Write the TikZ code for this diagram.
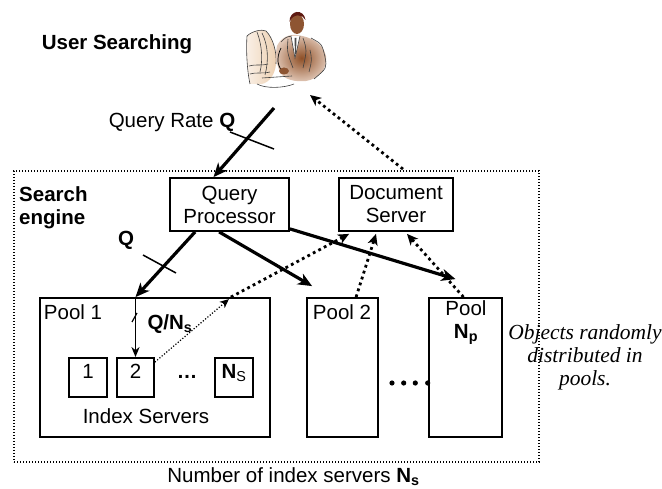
\documentclass[tikz,border=0pt]{standalone}
\usepackage{fontspec}
\setmainfont{Liberation Sans}
\newfontfamily\notefont{Liberation Serif}
\usetikzlibrary{arrows.meta,calc}
\definecolor{suitbrown}{HTML}{A85E2E}
\definecolor{faceskin}{HTML}{8E5532}
\definecolor{hairred}{HTML}{5E1A12}
\definecolor{monitorbeige}{HTML}{EDCFB0}
\newcommand\sz{\fontsize{20.5}{23}\selectfont}
\begin{document}
\begin{tikzpicture}[x=1pt,y=-1pt,
  every node/.style={font=\sz, inner sep=0pt},
  box/.style={draw, line width=1.8pt},
  srvbox/.style={box, minimum width=38pt, minimum height=39pt, text height=7pt, text depth=6pt},
  pool/.style={box, minimum width=#1, minimum height=139pt},
  flow/.style={line width=3.2pt, -{Stealth[length=14pt,width=12pt,inset=4pt]}},
  reply/.style={line width=2.8pt, dash pattern=on 2.8pt off 3.4pt, -{Stealth[length=11pt,width=10pt,inset=3pt]}},
  thinreply/.style={line width=1.2pt, dash pattern=on 1.2pt off 1.8pt, -{Stealth[length=9pt,width=8pt,inset=2.5pt]}},
  tick/.style={line width=1.5pt},
  sketch/.style={line width=0.6pt, black!75},
  ]
\useasboundingbox (0,0) rectangle (662,489);

% ---- the user at a computer ----
% monitor
\shade[left color=monitorbeige!30, right color=monitorbeige] (247,36) .. controls (252,31) and (262,29) .. (266,31) .. controls (273,38) and (277,52) .. (276,64) .. controls (275,74) and (270,82) .. (262,84) -- (250,84) .. controls (247,70) and (246,50) .. (247,36) -- cycle;
\draw[sketch] (247,36) .. controls (252,31) and (262,29) .. (266,31) .. controls (273,38) and (277,52) .. (276,64);
\draw[sketch] (247,36) .. controls (246,50) and (247,70) .. (250,84);
\draw[sketch] (262,33) .. controls (268,45) and (269,60) .. (265,75);
\draw[sketch] (257,32) .. controls (262,45) and (263,60) .. (260,72);
\draw[sketch] (249,66) .. controls (255,64) and (262,66) .. (268,64);
\draw[sketch] (250,74) .. controls (256,72) and (262,74) .. (270,72);
% suit
\shade[inner color=suitbrown!85!black, outer color=suitbrown!35] (277,46) .. controls (281,37) and (290,34) .. (297,35) .. controls (311,37) and (323,43) .. (326,56) .. controls (328,68) and (319,79) .. (306,81) .. controls (295,82) and (284,80) .. (280,72) .. controls (276,63) and (275,54) .. (277,46) -- cycle;
\draw[sketch] (311,38) .. controls (322,44) .. (325,57) .. controls (327,68) .. (314,79);
\draw[sketch] (281,42) .. controls (286,37) .. (292,36);
% shirt and tie
\fill[white] (291,36) -- (295,58) -- (300,36) -- cycle;
\draw[sketch] (291,36) -- (295,58) -- (300,36);
\fill[black!70] (294.5,38) -- (296.5,38) -- (296,54) -- (295,54) -- cycle;
\draw[sketch] (288,39) .. controls (287,52) .. (293,68);
\draw[sketch] (303,38) .. controls (307,50) .. (303,68);
\draw[sketch] (310,50) .. controls (312,60) .. (309,72);
% arm and hand
\draw[line width=0.7pt] (281,48) .. controls (276,58) and (277,68) .. (285,73);
\fill[faceskin] (284,71) ellipse [x radius=5, y radius=3.5];
% head
\fill[faceskin] (297,24) ellipse [x radius=7, y radius=10];
\fill[hairred] (289.5,22) .. controls (289,10) and (304,8) .. (305.5,20) .. controls (303,14) and (293,13) .. (289.5,22) -- cycle;
% keyboard and cable
\draw[sketch] (262,78) -- (292,76);
\draw[sketch] (257,84) .. controls (266,89) and (284,88) .. (294,84);
\coordinate (qin) at (274,108);
\coordinate (userin) at (310,95);

% ---- boxes ----
\node[draw, line width=1.2pt, dash pattern=on 1.2pt off 1.8pt, minimum width=525pt, minimum height=291pt] (engine) at (276.5,316.5) {};
\node[box, minimum width=119pt, minimum height=53pt, align=center] (qp) at (229.5,204.5) {Query\\Processor};
\node[box, minimum width=114pt, minimum height=53pt, align=center] (ds) at (396,204.5) {Document\\Server};
\node[pool=230pt] (pool1) at (155,367.5) {};
\node[pool=71pt] (pool2) at (342.5,367.5) {};
\node[pool=73pt] (poolN) at (465.5,367.5) {};
\node[srvbox] (s1) at (88,377.5) {1};
\node[srvbox, minimum width=37pt] (s2) at (135.5,377.5) {2};
\node[srvbox] (sN) at (234,377.5) {\textbf{N}\textsubscript{S}};

% ---- labels ----
\node[font=\sz\bfseries] (usr) at (117,44) {User Searching};
\node[font=\sz\bfseries, align=left, anchor=west] (eng) at (19,208) {Search\\engine};
\node (qrate) at (172,122) {Query Rate \textbf{Q}};
\node[font=\sz\bfseries] (qlbl) at (126,240) {Q};
\node (p1lbl) at (73,312) {Pool 1};
\node (p2lbl) at (342,312) {Pool 2};
\node[align=center] (pNlbl) at (466,323) {Pool\\\textbf{N}\textsubscript{\textbf{p}}};
\node (idx) at (146,416) {Index Servers};
\node[font=\sz\bfseries] (qns) at (170,324) {Q/N\textsubscript{s}};
\node[font=\sz\bfseries] (sdots) at (187,377) {\textellipsis};
\node (bottom) at (293.5,477) {Number of index servers \textbf{N}\textsubscript{\textbf{s}}};
\node[font=\notefont\itshape\fontsize{21.5}{23}\selectfont, align=center] (note) at (585,357) {Objects randomly\\distributed in\\pools.};
\foreach \dx in {392,403.7,415.3,427.7} \fill (\dx,383) circle[radius=2.6];

% ---- query flow ----
\draw[flow] (qin) -- ([xshift=-16pt]qp.north);
\draw[tick] (230,132) -- (274,149);
\draw[flow] ([xshift=26pt]qp.south west) -- (s2.north |- pool1.north);
\draw[tick] (143,255) -- (176,273);
\draw[flow] ([xshift=50pt]qp.south west) -- ([xshift=6pt,yshift=11pt]pool2.north west);
\draw[flow] ([yshift=3pt]qp.south east) -- ([xshift=-10pt,yshift=18pt]poolN.north);
\draw[line width=1.5pt, -{Stealth[length=10pt,width=8pt,inset=3pt]}] (s2.north |- pool1.north) -- (s2.north);
\draw[line width=1.2pt] (132,322) -- (137,313);

% ---- results flow ----
\draw[thinreply] ([yshift=-5pt]s2.north east) -- ([xshift=-42pt,yshift=-2pt]pool1.north east);
\draw[reply] ([xshift=-40pt]pool1.north east) -- ([xshift=11pt,yshift=-2pt]ds.south west);
\draw[reply] ([xshift=50pt]pool2.north west) -- ([xshift=-20pt,yshift=-2pt]ds.south);
\draw[reply] ([xshift=-2pt]poolN.north) -- ([xshift=11pt,yshift=-2pt]ds.south);
\draw[reply] ([xshift=7pt,yshift=8pt]ds.north) -- (userin);
\end{tikzpicture}
\end{document}
